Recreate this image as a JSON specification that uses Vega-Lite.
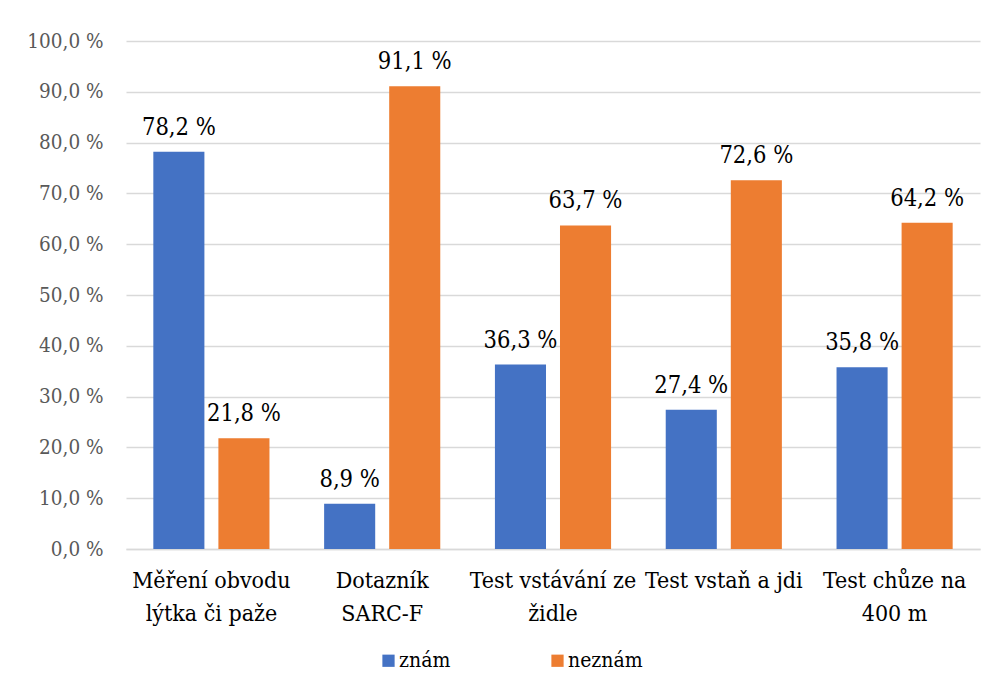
{
  "$schema": "https://vega.github.io/schema/vega-lite/v6.json",
  "autosize": {"type": "none"},
  "padding": {"left": 126, "top": 41, "right": 25, "bottom": 146},
  "width": 854,
  "height": 508,
  "background": "white",
  "data": {
    "values": [
      {"kategorie": "Měření obvodu lýtka či paže", "odpoved": "znám", "podil": 78.2},
      {"kategorie": "Měření obvodu lýtka či paže", "odpoved": "neznám", "podil": 21.8},
      {"kategorie": "Dotazník SARC-F", "odpoved": "znám", "podil": 8.9},
      {"kategorie": "Dotazník SARC-F", "odpoved": "neznám", "podil": 91.1},
      {"kategorie": "Test vstávání ze židle", "odpoved": "znám", "podil": 36.3},
      {"kategorie": "Test vstávání ze židle", "odpoved": "neznám", "podil": 63.7},
      {"kategorie": "Test vstaň a jdi", "odpoved": "znám", "podil": 27.4},
      {"kategorie": "Test vstaň a jdi", "odpoved": "neznám", "podil": 72.6},
      {"kategorie": "Test chůze na 400 m", "odpoved": "znám", "podil": 35.8},
      {"kategorie": "Test chůze na 400 m", "odpoved": "neznám", "podil": 64.2}
    ]
  },
  "transform": [
    {"calculate": "replace(format(datum.podil, '.1f'), '.', ',') + ' %'", "as": "popisek"}
  ],
  "encoding": {
    "x": {
      "field": "kategorie",
      "type": "nominal",
      "sort": null,
      "scale": {"paddingInner": 0.32, "paddingOuter": 0.16},
      "axis": {
        "title": null,
        "labelAngle": 0,
        "ticks": false,
        "domainColor": "#d9d9d9",
        "domainWidth": 1.3,
        "labelFont": "DejaVu Serif Condensed",
        "labelFontSize": 23,
        "labelColor": "#000000",
        "labelPadding": 20,
        "labelLineHeight": 33,
        "labelLimit": 0,
        "labelExpr": "datum.label == 'Měření obvodu lýtka či paže' ? ['Měření obvodu', 'lýtka či paže'] : datum.label == 'Dotazník SARC-F' ? ['Dotazník', 'SARC-F'] : datum.label == 'Test vstávání ze židle' ? ['Test vstávání ze', 'židle'] : datum.label == 'Test chůze na 400 m' ? ['Test chůze na', '400 m'] : datum.label"
      }
    },
    "xOffset": {
      "field": "odpoved",
      "type": "nominal",
      "sort": ["znám", "neznám"],
      "scale": {"paddingInner": 0.215, "paddingOuter": 0}
    },
    "y": {
      "field": "podil",
      "type": "quantitative",
      "scale": {"domain": [0, 100], "nice": false},
      "axis": {
        "title": null,
        "values": [0, 10, 20, 30, 40, 50, 60, 70, 80, 90, 100],
        "domain": false,
        "ticks": false,
        "gridColor": "#d9d9d9",
        "gridWidth": 1.3,
        "labelFont": "DejaVu Serif Condensed",
        "labelFontSize": 20.5,
        "labelColor": "#595959",
        "labelPadding": 23,
        "labelExpr": "replace(format(datum.value, '.1f'), '.', ',') + ' %'"
      }
    }
  },
  "layer": [
    {
      "mark": {"type": "bar"},
      "encoding": {
        "color": {
          "field": "odpoved",
          "type": "nominal",
          "sort": ["znám", "neznám"],
          "scale": {"domain": ["znám", "neznám"], "range": ["#4472C4", "#ED7D31"]},
          "legend": {
            "title": null,
            "orient": "none",
            "legendX": 252,
            "legendY": 609,
            "direction": "horizontal",
            "symbolType": "square",
            "symbolSize": 150,
            "symbolStrokeWidth": 0,
            "symbolOpacity": 1,
            "labelFont": "DejaVu Serif Condensed",
            "labelFontSize": 21,
            "labelColor": "#000000",
            "columnPadding": 96,
            "labelOffset": 0
          }
        }
      }
    },
    {
      "mark": {"type": "text", "baseline": "alphabetic", "dy": -17, "font": "DejaVu Serif Condensed", "fontSize": 23.5},
      "encoding": {"text": {"field": "popisek"}, "color": {"value": "#000000"}}
    }
  ],
  "config": {"view": {"stroke": null}, "font": "DejaVu Serif Condensed"}
}
